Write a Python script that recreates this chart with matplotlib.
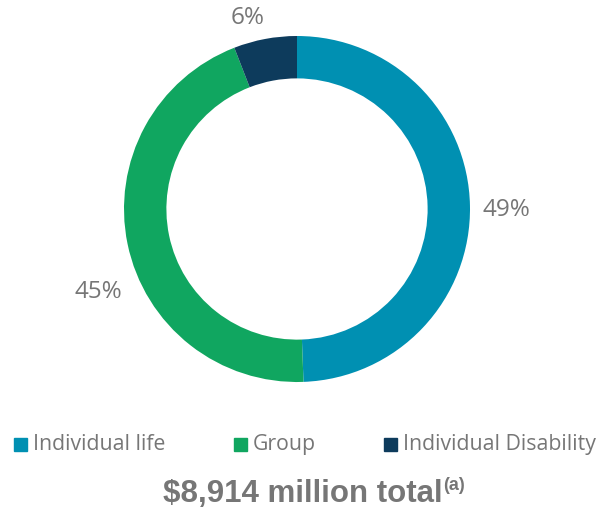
import matplotlib
matplotlib.use('Agg')
import matplotlib.pyplot as plt
from matplotlib.patches import Rectangle

# data
categories = ['Individual life', 'Group', 'Individual Disability']
shares = [49.4, 44.7, 5.9]
pct_labels = ['49%', '45%', '6%']
colors = ['#0090B2', '#10A660', '#0D3B5C']
total_text = '$8,914 million total'
total_note = '(a)'

grey = '#767676'

fig = plt.figure(figsize=(6.02, 5.10), dpi=100)

# donut: centre ~ (297, 210) px, outer radius ~173 px
ax = fig.add_axes([124 / 602, 127 / 510, 346 / 602, 346 / 510])
ax.pie(shares, colors=colors, startangle=90, counterclock=False, radius=1,
       wedgeprops=dict(width=0.245, edgecolor='none'))
ax.set_xlim(-1, 1)
ax.set_ylim(-1, 1)
ax.set_aspect('auto')
ax.axis('off')

# percentage labels (placed outside the ring)
label_pos = [(1.21, 0.0), (-1.15, -0.475), (-0.283, 1.11)]
for (lx, ly), txt in zip(label_pos, pct_labels):
    ax.text(lx, ly, txt, ha='center', va='center', fontsize=17.5,
            family='Open Sans', color=grey, clip_on=False)

# legend drawn by hand so spacing matches
leg_x = [14, 234, 384]
leg_y = 1 - 445 / 510
sq_w, sq_h = 13 / 602, 13 / 510
for x, c, name in zip(leg_x, colors, categories):
    fig.patches.append(Rectangle((x / 602, leg_y - sq_h / 2), sq_w, sq_h,
                                 transform=fig.transFigure, color=c))
    fig.text((x + 19) / 602, leg_y, name, ha='left', va='center',
             fontsize=15.3, family='Open Sans', color=grey)

# total line with superscript note
t = fig.text(163 / 602, 1 - 502 / 510, total_text, ha='left', va='baseline',
             fontsize=22.5, fontweight='bold', family='Liberation Sans', color=grey)
fig.canvas.draw()
bb = t.get_window_extent()
fig.text(bb.x1 / 602 + 0.001, 1 - 477 / 510, total_note, ha='left', va='top',
         fontsize=13, fontweight='bold', family='Liberation Sans', color=grey)

fig.savefig('out.png', dpi=100)
